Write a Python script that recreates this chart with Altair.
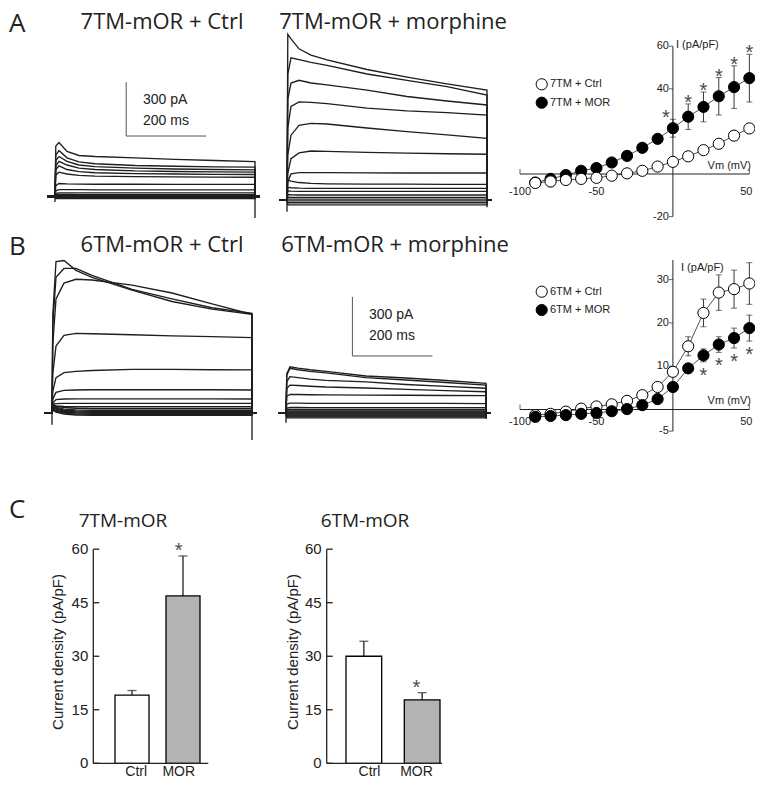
import altair as alt
import pandas as pd

# ---------------- data ----------------
T_MS = [2, 10, 30, 60, 100, 200, 300, 400, 500]  # sample times of each current trace (ms)

# current traces (pA) sampled at T_MS, one list per voltage step
TR_7TM_CTRL = [
    [280, 300, 250, 228, 222, 215, 206, 200, 194],
    [230, 255, 215, 192, 182, 172, 168, 165, 163],
    [200, 222, 195, 175, 166, 158, 153, 150, 148],
    [170, 195, 175, 158, 150, 142, 139, 137, 135],
    [150, 170, 150, 138, 132, 127, 125, 123, 122],
    [120, 135, 125, 117, 113, 110, 109, 108, 107],
    [60, 72, 70, 69, 68, 68, 67, 67, 67],
    [32, 38, 38, 38, 37, 37, 37, 37, 37],
    [17, 20, 20, 20, 20, 20, 20, 20, 20],
    [10, 11, 11, 10, 10, 10, 10, 10, 10],
    [5, 6, 6, 5, 5, 5, 5, 5, 5],
    [1, 2, 1, 1, 1, 1, 1, 1, 1],
    [-3, -3, -3, -3, -3, -3, -3, -3, -3],
    [-6, -6, -6, -6, -6, -6, -6, -6, -6],
    [-9, -9, -9, -9, -9, -9, -9, -9, -9],
    [-12, -12, -12, -12, -12, -12, -12, -12, -12],
]
TR_7TM_MOR = [
    [920, 895, 840, 805, 778, 725, 683, 645, 610],
    [700, 790, 780, 765, 748, 700, 665, 630, 583],
    [560, 650, 665, 650, 640, 610, 575, 550, 528],
    [400, 520, 545, 542, 535, 510, 495, 485, 472],
    [250, 360, 415, 426, 422, 400, 380, 362, 343],
    [150, 230, 262, 272, 270, 265, 260, 257, 254],
    [100, 145, 152, 152, 152, 151, 150, 150, 150],
    [110, 105, 97, 92, 90, 88, 88, 87, 87],
    [70, 68, 66, 65, 65, 65, 65, 65, 65],
    [50, 49, 48, 48, 48, 48, 48, 48, 48],
    [30, 29, 28, 28, 28, 28, 28, 28, 28],
    [16, 15, 15, 15, 15, 15, 15, 15, 15],
    [5, 5, 5, 5, 5, 5, 5, 5, 5],
    [-5, -5, -5, -5, -5, -5, -5, -5, -5],
    [-15, -15, -15, -15, -15, -15, -15, -15, -15],
    [-27, -27, -27, -27, -27, -27, -27, -27, -27],
]
TR_6TM_CTRL = [
    [500, 770, 775, 725, 690, 625, 567, 528, 502],
    [450, 690, 735, 735, 700, 628, 580, 535, 507],
    [350, 580, 660, 680, 676, 650, 610, 555, 502],
    [200, 340, 395, 405, 403, 398, 392, 388, 383],
    [110, 180, 205, 212, 216, 222, 222, 220, 219],
    [70, 105, 115, 117, 118, 118, 118, 118, 117],
    [50, 68, 71, 72, 72, 72, 72, 72, 71],
    [45, 48, 49, 49, 49, 49, 49, 49, 49],
    [40, 36, 33, 32, 32, 32, 32, 32, 32],
    [45, 35, 28, 24, 22, 22, 22, 22, 22],
    [40, 30, 20, 16, 14, 14, 14, 14, 14],
    [35, 25, 14, 10, 8, 8, 8, 8, 8],
    [30, 20, 9, 5, 3, 3, 3, 3, 3],
    [25, 14, 4, 0, -2, -2, -2, -2, -2],
    [20, 9, -1, -5, -7, -7, -7, -7, -7],
    [15, 4, -6, -10, -12, -12, -12, -12, -12],
]
TR_6TM_MOR = [
    [200, 235, 228, 220, 212, 188, 178, 165, 151],
    [195, 227, 220, 212, 204, 180, 168, 155, 142],
    [160, 185, 180, 172, 166, 158, 145, 135, 126],
    [125, 142, 140, 136, 132, 127, 120, 114, 108],
    [85, 95, 94, 93, 92, 91, 90, 89, 88],
    [45, 50, 50, 49, 49, 49, 49, 49, 48],
    [25, 28, 28, 27, 27, 27, 27, 27, 27],
    [18, 18, 18, 18, 18, 18, 18, 18, 18],
    [10, 10, 10, 10, 10, 10, 10, 10, 10],
    [5, 5, 5, 5, 5, 5, 5, 5, 5],
    [0, 0, 0, 0, 0, 0, 0, 0, 0],
    [-5, -5, -5, -5, -5, -5, -5, -5, -5],
    [-10, -10, -10, -10, -10, -10, -10, -10, -10],
    [-15, -15, -15, -15, -15, -15, -15, -15, -15],
    [-20, -20, -20, -20, -20, -20, -20, -20, -20],
    [-25, -25, -25, -25, -25, -25, -25, -25, -25],
]
ONSET_DIP = [-30, -65, -60, -50]   # pA, capacitive transient at step onset (A1, A2, B1, B2)
TAIL_DIP = [-120, -40, -137, -30]  # pA, tail transient at step end
SCALE_BAR_PA = 300
SCALE_BAR_MS = 200

# I-V curves
VM = [-90, -80, -70, -60, -50, -40, -30, -20, -10, 0, 10, 20, 30, 40, 50]
A_IV_CTRL = [-4.2, -3.5, -2.8, -2.3, -1.8, -0.8, 0.3, 1.5, 3.5, 5.7, 8.3, 11.2, 14.2, 18.0, 21.4]
A_IV_CTRL_ERR = [0.6, 2.5, 0.5, 0.5, 0.5, 0.5, 0.5, 0.6, 0.7, 0.8, 0.9, 1.0, 1.1, 1.3, 1.6]
A_IV_MOR = [-4.0, -2.3, -0.5, 1.5, 2.8, 5.4, 8.5, 12.3, 16.5, 21.5, 26.9, 31.5, 36.5, 40.8, 45.0]
A_IV_MOR_ERR = [0.8, 1.5, 0.8, 0.8, 0.9, 1.0, 1.3, 1.5, 2.0, 4.2, 6.0, 7.0, 8.8, 10.0, 11.2]
A_SIG = [0, 10, 20, 30, 40, 50]

B_IV_CTRL = [-1.3, -1.0, -0.5, 0.2, 0.7, 1.2, 2.0, 3.3, 5.2, 8.7, 14.6, 22.3, 27.0, 27.8, 29.1]
B_IV_CTRL_ERR = [0.3, 0.3, 0.3, 0.3, 0.3, 0.3, 0.4, 0.5, 0.6, 1.0, 2.2, 3.2, 4.1, 4.4, 4.8]
B_IV_MOR = [-1.7, -1.5, -1.3, -1.0, -0.8, -0.4, 0.1, 1.0, 2.4, 5.2, 9.5, 12.5, 15.0, 16.5, 18.8]
B_IV_MOR_ERR = [0.3, 0.3, 0.3, 0.3, 0.3, 0.3, 0.3, 0.4, 0.5, 0.8, 0.9, 1.5, 1.8, 2.3, 3.0]
B_SIG = [20, 30, 40, 50]

IV_XTICKS = [-100, -50, 50]
A_YTICKS = [60, 40, -20]
B_YTICKS = [30, 20, 10, -5]

# bar charts (panel C)
BAR_CATS = ["Ctrl", "MOR"]
C7_MEAN = [19.1, 46.9]
C7_ERR = [1.3, 11.2]
C6_MEAN = [30.0, 17.8]
C6_ERR = [4.2, 2.0]
BAR_TICKS = [0, 15, 30, 45, 60]

# ---------------- layout (image pixels) ----------------
W, H = 747, 771
OFF = 8
SANS = "Liberation Sans"
TITLE_FONT = "Open Sans"
INK = "#222222"


def sc(d0, d1, r0, r1):
    return alt.Scale(domain=[d0, d1], range=[r0 - OFF, r1 - OFF], nice=False, zero=False)


def one():
    return pd.DataFrame({"a": [0]})


def label(text, x, y, size=11, font=SANS, align="left", baseline="middle", angle=0, color=INK):
    return alt.Chart(one()).mark_text(
        text=text, fontSize=size, font=font, align=align, baseline=baseline,
        angle=angle, color=color
    ).encode(x=alt.value(x - OFF), y=alt.value(y - OFF))


layers = []

# ---------- current traces ----------
PX_PER_MS = 0.4
TRACE_PANELS = [
    (TR_7TM_CTRL, 55, 196.5, 0.18),
    (TR_7TM_MOR, 287, 200, 0.18),
    (TR_6TM_CTRL, 52, 413, 0.1967),
    (TR_6TM_MOR, 286, 413, 0.1967),
]
trace_scales = []
for p, (traces, x0, base, k) in enumerate(TRACE_PANELS):
    xs = sc(0, 500, x0, x0 + 500 * PX_PER_MS)
    ys = sc(0, 1000, base, base - 1000 * k)
    trace_scales.append((xs, ys))
    rows = []
    for n, vals in enumerate(traces):
        pts = [(-20, 0), (0, 0)] + list(zip(T_MS, vals)) + [(500, 0), (512, 0)]
        for j, (t, v) in enumerate(pts):
            rows.append({"trace": n, "seq": j, "t": t, "i": v})
    df = pd.DataFrame(rows)
    layers.append(
        alt.Chart(df).mark_line(color="#1e1e1e", strokeWidth=1.35).encode(
            x=alt.X("t:Q", scale=xs, axis=None),
            y=alt.Y("i:Q", scale=ys, axis=None),
            detail="trace:N",
            order=alt.Order("seq:Q"),
        )
    )
    dips = pd.DataFrame({"t": [0, 500], "y0": [0, 0], "y1": [ONSET_DIP[p], TAIL_DIP[p]]})
    layers.append(
        alt.Chart(dips).mark_rule(color="#1e1e1e", strokeWidth=1.35).encode(
            x=alt.X("t:Q", scale=xs, axis=None),
            y=alt.Y("y0:Q", scale=ys, axis=None),
            y2="y1:Q",
        )
    )

# scale bars (A in panel A1, B in panel B2)
for (xs, ys), (sb_t, sb_i), (tx, ty1, ty2) in [
    (trace_scales[0], (178, 336), (143, 100, 121)),
    (trace_scales[3], (166, 290), (369, 315, 336)),
]:
    sb = pd.DataFrame({
        "t": [sb_t, sb_t], "t2": [sb_t, sb_t + SCALE_BAR_MS],
        "i": [sb_i, sb_i], "i2": [sb_i + SCALE_BAR_PA, sb_i],
    })
    layers.append(
        alt.Chart(sb).mark_rule(color="#555555", strokeWidth=1).encode(
            x=alt.X("t:Q", scale=xs, axis=None), x2="t2:Q",
            y=alt.Y("i:Q", scale=ys, axis=None), y2="i2:Q",
        )
    )
    layers.append(label(f"{SCALE_BAR_PA} pA", tx, ty1, size=14))
    layers.append(label(f"{SCALE_BAR_MS} ms", tx, ty2, size=14))


# ---------- I-V panels ----------
def iv_panel(ctrl, ctrl_err, mor, mor_err, sig, ys, yrange, yticks, xlab_dy,
             star_below, names, leg_y, ilab, vlab, ctrl_on_top):
    xs = sc(-100, 50, 520, 749.35)
    out = []
    ax_df = pd.DataFrame({"x": [-100, 0], "x2": [50, 0], "y": [0, yrange[0]], "y2": [0, yrange[1]]})
    out.append(alt.Chart(ax_df).mark_rule(color=INK, strokeWidth=1).encode(
        x=alt.X("x:Q", scale=xs, axis=None), x2="x2:Q",
        y=alt.Y("y:Q", scale=ys, axis=None), y2="y2:Q"))
    xt = pd.DataFrame({"v": IV_XTICKS, "z": [0] * len(IV_XTICKS), "lbl": [str(v) for v in IV_XTICKS]})
    # the right-most label is nudged left so that it stays inside the page
    xt["nudge"] = [0, 0, -3]
    out.append(alt.Chart(xt).mark_tick(orient="vertical", size=5, thickness=1, color=INK).encode(
        x=alt.X("v:Q", scale=xs, axis=None), y=alt.Y("z:Q", scale=ys, axis=None),
        yOffset=alt.value(-2.5)))
    for nudge, part in xt.groupby("nudge"):
        out.append(alt.Chart(part).mark_text(fontSize=11, font=SANS, color=INK, baseline="middle",
                                             dy=xlab_dy, dx=float(nudge)).encode(
            x=alt.X("v:Q", scale=xs, axis=None), y=alt.Y("z:Q", scale=ys, axis=None), text="lbl:N"))
    yt = pd.DataFrame({"v": yticks, "z": [0] * len(yticks), "lbl": [str(v) for v in yticks]})
    out.append(alt.Chart(yt).mark_tick(orient="horizontal", size=4, thickness=1, color=INK).encode(
        x=alt.X("z:Q", scale=xs, axis=None), y=alt.Y("v:Q", scale=ys, axis=None),
        xOffset=alt.value(-2)))
    out.append(alt.Chart(yt).mark_text(fontSize=11, font=SANS, color=INK, align="right",
                                       baseline="middle", dx=-4).encode(
        x=alt.X("z:Q", scale=xs, axis=None), y=alt.Y("v:Q", scale=ys, axis=None), text="lbl:N"))

    series = [("Ctrl", ctrl, ctrl_err, "white"), ("MOR", mor, mor_err, "black")]
    if ctrl_on_top:
        series = series[::-1]
    for name, m, e, fill in series:
        df = pd.DataFrame({"vm": VM, "m": m, "e": e})
        df["lo"] = df["m"] - df["e"]
        df["hi"] = df["m"] + df["e"]
        X = alt.X("vm:Q", scale=xs, axis=None)
        out.append(alt.Chart(df).mark_rule(color=INK, strokeWidth=0.9).encode(
            x=X, y=alt.Y("lo:Q", scale=ys, axis=None), y2="hi:Q"))
        for col in ["lo", "hi"]:
            out.append(alt.Chart(df).mark_tick(orient="horizontal", size=6, thickness=0.9, color=INK).encode(
                x=X, y=alt.Y(f"{col}:Q", scale=ys, axis=None)))
        out.append(alt.Chart(df).mark_line(color=INK, strokeWidth=0.8).encode(
            x=X, y=alt.Y("m:Q", scale=ys, axis=None)))
        out.append(alt.Chart(df).mark_point(shape="circle", filled=True, fill=fill, stroke="black",
                                            strokeWidth=1, size=125, opacity=1).encode(
            x=X, y=alt.Y("m:Q", scale=ys, axis=None)))

    # significance stars on the MOR series
    sdf = pd.DataFrame({"vm": VM, "m": mor, "e": mor_err})
    sdf = sdf[sdf["vm"].isin(sig)].copy()
    if star_below:
        sdf["ys"] = sdf["m"] - sdf["e"]
        out.append(alt.Chart(sdf).mark_text(text="*", fontSize=20, font=SANS, color="#4a4a4a",
                                            baseline="alphabetic", dy=20).encode(
            x=alt.X("vm:Q", scale=xs, axis=None), y=alt.Y("ys:Q", scale=ys, axis=None)))
    else:
        sdf["ys"] = sdf["m"] + sdf["e"]
        sdf["dx"] = [-7 if v == 0 else 0 for v in sdf["vm"]]
        for dxv, part in sdf.groupby("dx"):
            out.append(alt.Chart(part).mark_text(text="*", fontSize=20, font=SANS, color="#4a4a4a",
                                                 baseline="alphabetic", dy=5, dx=float(dxv)).encode(
                x=alt.X("vm:Q", scale=xs, axis=None), y=alt.Y("ys:Q", scale=ys, axis=None)))

    # legend
    for (nm, fill), ly in zip([(names[0], "white"), (names[1], "black")], leg_y):
        out.append(alt.Chart(one()).mark_point(shape="circle", filled=True, fill=fill, stroke="black",
                                               strokeWidth=1, size=125, opacity=1).encode(
            x=alt.value(541.7 - OFF), y=alt.value(ly - OFF)))
        out.append(label(nm, 550, ly, size=11))
    out.append(label("I (pA/pF)", ilab[0], ilab[1], size=11))
    out.append(label("Vm (mV)", vlab[0], vlab[1], size=11, align="right"))
    return out


layers += iv_panel(A_IV_CTRL, A_IV_CTRL_ERR, A_IV_MOR, A_IV_MOR_ERR, A_SIG,
                   sc(-20, 60, 174 + 20 * 2.13, 174 - 60 * 2.13), (-20, 60), A_YTICKS, 18,
                   False, ("7TM + Ctrl", "7TM + MOR"), (84.3, 102.7), (676, 45), (751, 166), True)
layers += iv_panel(B_IV_CTRL, B_IV_CTRL_ERR, B_IV_MOR, B_IV_MOR_ERR, B_SIG,
                   sc(-5, 35, 409.5 + 5 * 4.33, 409.5 - 35 * 4.33), (-5, 34.5), B_YTICKS, 12,
                   True, ("6TM + Ctrl", "6TM + MOR"), (291.7, 310), (681, 268), (751, 401), False)


# ---------- bar charts ----------
def bar_panel(means, errs, ax, xend, band_lo, band_hi, pin, title, title_cx, ytitle_cx):
    ys = sc(0, 60, 763.3, 549.2)
    xs = alt.Scale(domain=BAR_CATS, range=[band_lo - OFF, band_hi - OFF], paddingInner=pin, paddingOuter=0)
    df = pd.DataFrame({"cat": BAR_CATS, "m": means, "e": errs, "z": [0, 0]})
    df["top"] = df["m"] + df["e"]
    X = alt.X("cat:N", scale=xs, axis=None)
    out = []
    out.append(alt.Chart(df).mark_rule(color=INK, strokeWidth=1.3).encode(
        x=X, y=alt.Y("m:Q", scale=ys, axis=None), y2="top:Q"))
    out.append(alt.Chart(df).mark_tick(orient="horizontal", size=9, thickness=1.3, color=INK).encode(
        x=X, y=alt.Y("top:Q", scale=ys, axis=None)))
    out.append(alt.Chart(df).mark_bar(stroke="black", strokeWidth=1.3).encode(
        x=X, y=alt.Y("m:Q", scale=ys, axis=None), y2="z:Q",
        fill=alt.Fill("cat:N", scale=alt.Scale(domain=BAR_CATS, range=["white", "#b3b3b3"]), legend=None)))
    out.append(alt.Chart(df[df["cat"] == "MOR"]).mark_text(
        text="*", fontSize=20, font=SANS, color="#4a4a4a", baseline="alphabetic", dy=1).encode(
        x=X, y=alt.Y("top:Q", scale=ys, axis=None)))
    axdf = pd.DataFrame({"a": [0], "b": [60]})
    out.append(alt.Chart(axdf).mark_rule(color=INK, strokeWidth=1.3).encode(
        x=alt.value(ax - OFF), y=alt.Y("a:Q", scale=ys, axis=None), y2="b:Q"))
    out.append(alt.Chart(axdf).mark_rule(color=INK, strokeWidth=1.3).encode(
        x=alt.value(ax - OFF), x2=alt.value(xend - OFF), y=alt.Y("a:Q", scale=ys, axis=None)))
    tdf = pd.DataFrame({"v": BAR_TICKS, "lbl": [str(v) for v in BAR_TICKS]})
    out.append(alt.Chart(tdf).mark_rule(color=INK, strokeWidth=1.3).encode(
        x=alt.value(ax - OFF), x2=alt.value(ax - OFF + 6), y=alt.Y("v:Q", scale=ys, axis=None)))
    out.append(alt.Chart(tdf).mark_text(fontSize=15, font=SANS, color=INK, align="right",
                                        baseline="middle").encode(
        x=alt.value(ax - OFF - 5), y=alt.Y("v:Q", scale=ys, axis=None), text="lbl:N"))
    out.append(alt.Chart(df).mark_text(fontSize=14, font=SANS, color=INK, baseline="alphabetic").encode(
        x=X, y=alt.value(775.5 - OFF), text="cat:N"))
    out.append(label(title, title_cx, 521, size=19, font=TITLE_FONT, align="center"))
    out.append(label("Current density (pA/pF)", ytitle_cx, 652, size=15, align="center", angle=270))
    return out


layers += bar_panel(C7_MEAN, C7_ERR, 93.3, 208.3, 115, 200, 0.333, "7TM-mOR", 123, 57.5)
layers += bar_panel(C6_MEAN, C6_ERR, 326.7, 442, 346, 440, 0.388, "6TM-mOR", 365, 292.5)

# ---------- panel letters and titles ----------
for txt, y in [("A", 11), ("B", 234), ("C", 497)]:
    layers.append(label(txt, 9, y, size=26, font=TITLE_FONT, align="left", baseline="top"))
for txt, x, y, bl in [("7TM-mOR + Ctrl", 162, 12, "top"), ("7TM-mOR + morphine", 393, 12, "top"),
                      ("6TM-mOR + Ctrl", 162, 245, "middle"), ("6TM-mOR + morphine", 395, 245, "middle")]:
    layers.append(label(txt, x, y, size=22, font=TITLE_FONT, align="center", baseline=bl))

chart = alt.layer(*layers).resolve_scale(x="independent", y="independent").properties(
    width=W, height=H, padding=0, autosize=alt.AutoSizeParams(type="none"),
    background="white",
).configure_view(stroke=None)

chart.save("out.html", embed_options={"renderer": "svg", "actions": False})
